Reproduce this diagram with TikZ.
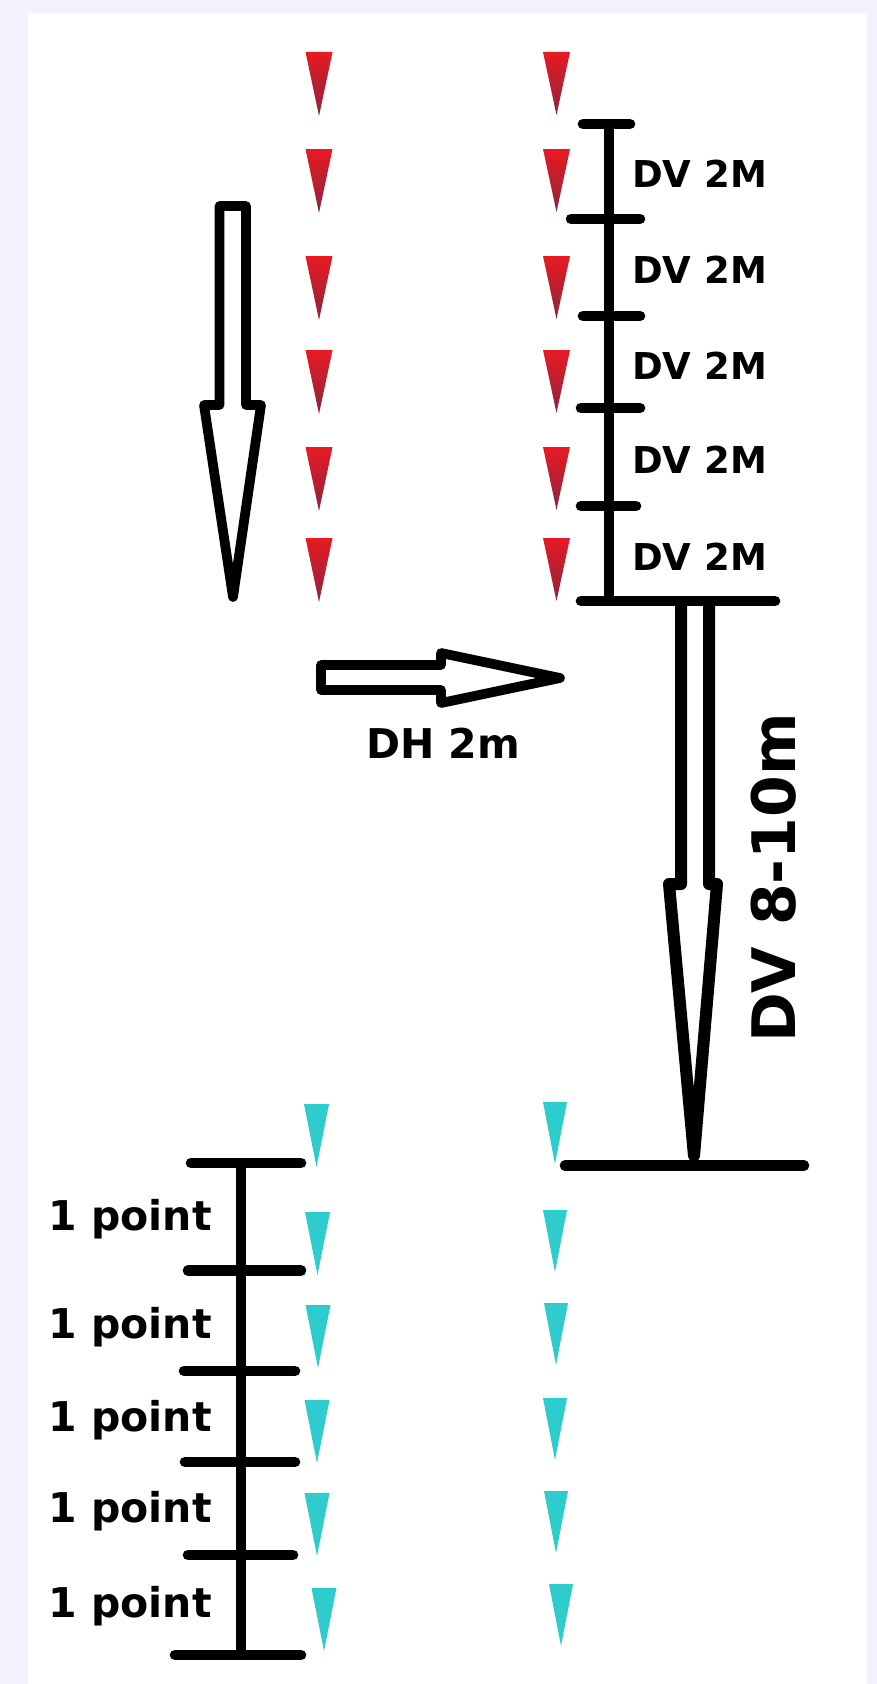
\documentclass[tikz,border=0pt]{standalone}
\usepackage{fontspec}
\setmainfont{DejaVu Sans}
\usepackage{tikz}
\usetikzlibrary{calc}
\usepackage{xcolor}
\definecolor{pagebg}{RGB}{243,241,252}
\definecolor{dropred}{RGB}{232,26,34}
\definecolor{dropdark}{RGB}{140,36,62}
\definecolor{dropcyan}{RGB}{46,204,204}
\tikzset{
  bar/.style={draw=black, line width=8pt, line cap=round},
  stem/.style={draw=black, line width=7.5pt},
  hollow/.style={
    draw=black, fill=white, line width=7.3pt, line join=round
  },
  twinshaft/.style={draw=black, line width=9pt, line join=round},
  reddrop/.style={top color=dropred, middle color=dropred!92!dropdark, bottom color=dropdark},
  cyandrop/.style={fill=dropcyan},
  segtag/.style={
    anchor=west, inner sep=0pt,
    font=\fontsize{27.75}{30}\selectfont\bfseries
  },
  pointtag/.style={
    anchor=base east, inner sep=0pt,
    font=\fontsize{30.75}{33}\selectfont\bfseries
  },
  steptag/.style={
    inner sep=0pt, font=\fontsize{30.75}{33}\selectfont\bfseries
  },
  droptag/.style={
    inner sep=0pt, rotate=90, font=\fontsize{45}{48}\selectfont\bfseries
  }
}

\begin{document}
\begin{tikzpicture}[x=0.75pt, y=-0.75pt]
  \useasboundingbox (0,0) rectangle (877,1684);
  \fill[pagebg] (0,0) rectangle (877,1684);
  \fill[white] (27.5,13) rectangle (867,1684);

  \foreach \y in {52,149,256,350,447,538} {
    \shade[reddrop] (305.5,\y) -- (332.5,\y) -- (319,\y+64) -- cycle;
    \shade[reddrop] (543,\y) -- (570,\y) -- (556.5,\y+63) -- cycle;
  }
  \foreach \xa/\ya/\xb/\yb in {316.5/1104/555/1102, 317.5/1212/555/1210,
      318/1305/556/1303, 317/1400/555/1398, 317/1493/556/1491,
      324/1588/561/1584} {
    \fill[cyandrop] (\xa-12.5,\ya) -- (\xa+12.5,\ya) -- (\xa,\ya+63) -- cycle;
    \fill[cyandrop] (\xb-12,\yb) -- (\xb+12,\yb) -- (\xb,\yb+62) -- cycle;
  }

  \coordinate (segtop) at (608.5,124);
  \coordinate (segbot) at (608.5,601);
  \draw[stem] (segtop) -- (segbot);
  \foreach \y/\a/\b in {124/583/630, 219/571/640, 316/583/640,
      408/581/640, 506/581/636, 601/581/775}
    \draw[bar] (\a,\y) -- (\b,\y);
  \foreach \y [count=\i] in {174,270,366,460,557}
    \node[segtag] (seg\i) at (632,\y) {DV 2M};

  \draw[hollow] (219.5,206) -- (246,206) -- (246,405) -- (261,405)
    -- (233,597) -- (204,405) -- (219.5,405) -- cycle;

  \draw[hollow] (321,665) -- (441,665) -- (441,653) -- (560,678)
    -- (441,703) -- (441,690) -- (321,690) -- cycle;
  \node[steptag] (shift) at (443,743) {DH 2m};

  \coordinate (floor) at (694,1165.5);
  \draw[twinshaft] (681,601) -- (681,884) -- (669,884) -- (694,1156)
    -- (717,884) -- (709,884) -- (709,601);
  \draw[bar] (565,1165.5) -- (floor) -- (804,1165.5);
  \node[droptag] (fall) at (774,878) {DV 8-10m};

  \coordinate (ptstop) at (241,1163);
  \coordinate (ptsbot) at (241,1655);
  \draw[stem] (ptstop) -- (ptsbot);
  \foreach \y/\a/\b in {1163/191/301, 1270.6/188/301, 1371/184/295,
      1462/185/295, 1555/188/293, 1655/175/301}
    \draw[bar] (\a,\y) -- (\b,\y);
  \foreach \y [count=\i] in {1230.5,1338.5,1431.5,1522.7,1617.7}
    \node[pointtag] (pt\i) at (212,\y) {1 point};
\end{tikzpicture}
\end{document}
